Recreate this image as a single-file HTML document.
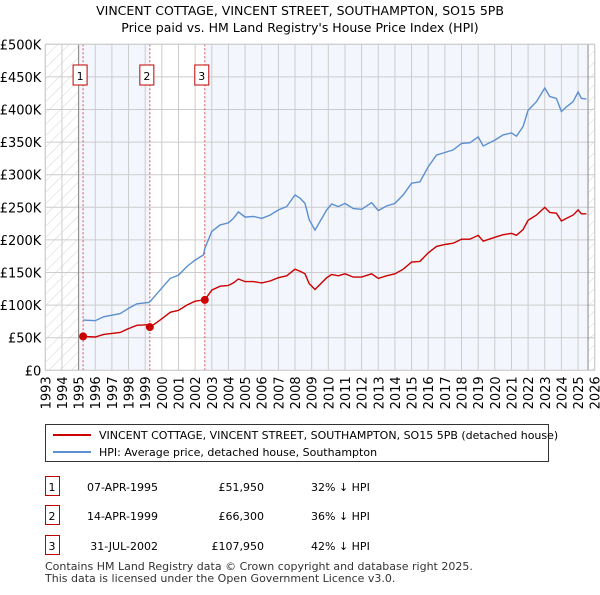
<!DOCTYPE html>
<html><head><meta charset="utf-8">
<style>
body{margin:0;background:#fff;font-family:"Liberation Sans","DejaVu Sans",sans-serif;}
svg text{font-family:"DejaVu Sans","Liberation Sans",sans-serif;}
</style></head>
<body>
<svg id="c" width="600" height="590" xmlns="http://www.w3.org/2000/svg">
<defs>
<pattern id="hatch" width="8" height="8" patternUnits="userSpaceOnUse" patternTransform="rotate(45)">
<line x1="0" y1="0" x2="0" y2="8" stroke="#d4d4d4" stroke-width="1"/>
</pattern>
</defs>
<text x="300" y="15" text-anchor="middle" font-size="12.5">VINCENT COTTAGE, VINCENT STREET, SOUTHAMPTON, SO15 5PB</text>
<text x="300" y="32" text-anchor="middle" font-size="12.5">Price paid vs. HM Land Registry's House Price Index (HPI)</text>
<g id="plot"></g>
<g id="legend">
<rect x="45.5" y="424.5" width="503" height="37" fill="#fff" stroke="#333"/>
<line x1="53" y1="435" x2="91" y2="435" stroke="#cc0000" stroke-width="2"/>
<text x="99" y="439" font-size="11">VINCENT COTTAGE, VINCENT STREET, SOUTHAMPTON, SO15 5PB (detached house)</text>
<line x1="53" y1="452" x2="91" y2="452" stroke="#5b8fd0" stroke-width="2"/>
<text x="99" y="456" font-size="11">HPI: Average price, detached house, Southampton</text>
</g>
<g id="table" font-size="11"></g>
<text x="45" y="570" font-size="11" fill="#333">Contains HM Land Registry data © Crown copyright and database right 2025.</text>
<text x="45" y="582" font-size="11" fill="#333">This data is licensed under the Open Government Licence v3.0.</text>
</svg>
<script>
const hpiYears=[1995.27,1996,1996.5,1997.5,1998,1998.5,1999.2,1999.28,2000,2000.5,2001,2001.5,2002,2002.5,2002.58,2003,2003.5,2004,2004.3,2004.6,2005,2005.5,2006,2006.5,2007,2007.5,2008,2008.3,2008.6,2008.85,2009.2,2009.9,2010.2,2010.6,2011,2011.5,2012,2012.6,2013,2013.5,2014,2014.5,2015,2015.5,2016,2016.5,2017,2017.5,2018,2018.5,2019,2019.3,2020,2020.5,2021,2021.3,2021.7,2022,2022.5,2023,2023.3,2023.7,2024,2024.3,2024.7,2025,2025.2,2025.5];
const hpiValues=[77,76,82,87,95,102,104,105,126,141,146,159,169,177,187,213,223,226,233,243,235,236,233,238,246,251,269,264,256,231,215,246,255,251,256,248,247,257,245,252,256,269,287,289,312,330,334,338,348,349,358,344,353,361,364,359,374,399,412,433,420,417,397,404,412,427,417,416];
const priceValues=[52,51,55,58,64,69,70,66,79,89,92,100,106,108,108,123,129,130,134,140,136,136,134,137,142,145,155,152,148,133,124,142,147,145,148,143,143,148,141,145,148,155,166,167,180,190,193,195,201,201,207,198,204,208,210,207,216,230,238,250,242,241,229,233,238,246,240,240];
const saleYears=[1995.27,1999.28,2002.58];
const salePrices=[51950,66300,107950];
const saleLabels=["1","2","3"];
const saleDates=["07-APR-1995","14-APR-1999","31-JUL-2002"];
const salePriceText=["£51,950","£66,300","£107,950"];
const saleHpiText=["32% ↓ HPI","36% ↓ HPI","42% ↓ HPI"];
const yTicks=[0,50,100,150,200,250,300,350,400,450,500];
const yTickLabels=["£0","£50K","£100K","£150K","£200K","£250K","£300K","£350K","£400K","£450K","£500K"];
const xTicks=[1993,1994,1995,1996,1997,1998,1999,2000,2001,2002,2003,2004,2005,2006,2007,2008,2009,2010,2011,2012,2013,2014,2015,2016,2017,2018,2019,2020,2021,2022,2023,2024,2025,2026];

const NS="http://www.w3.org/2000/svg";
const X0=45.3,X1=594.7,Y0=370.3,Y1=44.3;
const xs=y=>X0+(y-1993)/33*(X1-X0);
const ys=v=>Y0-v/500*(Y0-Y1);
const plot=document.getElementById('plot');
function mk(tag,attrs,parent){const e=document.createElementNS(NS,tag);for(const k in attrs)e.setAttribute(k,attrs[k]);(parent||plot).appendChild(e);return e;}
const dataEnd=2025.6;
let r=mk('rect',{x:X0,y:Y1,width:xs(1995)-X0,height:Y0-Y1,fill:'url(#hatch)'});


r=mk('rect',{x:xs(dataEnd),y:Y1,width:X1-xs(dataEnd),height:Y0-Y1,fill:'url(#hatch)'});


r=mk('rect',{x:xs(1995),y:Y1,width:xs(saleYears[1])-xs(1995),height:Y0-Y1,fill:'#f3f6fd'});


r=mk('rect',{x:xs(saleYears[2]),y:Y1,width:xs(dataEnd)-xs(saleYears[2]),height:Y0-Y1,fill:'#f3f6fd'});


yTicks.forEach((t,i)=>{
 const l=mk('line',{x1:X0,x2:X1,y1:ys(t),y2:ys(t),stroke:'#ccc','stroke-width':1});
 
 
 const tx=mk('text',{x:X0-4,y:ys(t)+5,'text-anchor':'end','font-size':13});
 tx.textContent=yTickLabels[i];
 
 
});
xTicks.forEach(t=>{
 const l=mk('line',{x1:xs(t),x2:xs(t),y1:Y1,y2:Y0,stroke:'#ccc','stroke-width':1});
 
 
 const tx=mk('text',{x:0,y:0,'text-anchor':'end','font-size':13,transform:`translate(${xs(t)+5},${Y0+6}) rotate(-90)`});
 tx.textContent=t;
 
 
});
let b=mk('line',{x1:xs(1995),x2:xs(1995),y1:Y1,y2:Y0,stroke:'#888'});


b=mk('line',{x1:xs(dataEnd),x2:xs(dataEnd),y1:Y1,y2:Y0,stroke:'#888'});


saleYears.forEach((s,i)=>{
 const l=mk('line',{x1:xs(s),x2:xs(s),y1:Y1,y2:Y0,stroke:'#e05050','stroke-dasharray':'2,2','stroke-width':1});
 
 
 const bx=mk('rect',{x:xs(s)-10,y:65,width:14,height:20,fill:'#fff',stroke:'#c00000'});
 
 
 const t=mk('text',{x:xs(s)-3,y:80,'text-anchor':'middle','font-size':11});
 t.textContent=saleLabels[i];
 
 
});
const path=(yrs,vals)=>yrs.map((y,i)=>(i?'L':'M')+xs(y).toFixed(1)+','+ys(vals[i]).toFixed(1)).join('');
let p=mk('path',{d:path(hpiYears,hpiValues),fill:'none',stroke:'#5b8fd0','stroke-width':1.4});


p=mk('path',{d:path(hpiYears,priceValues),fill:'none',stroke:'#cc0000','stroke-width':1.4});


saleYears.forEach((s,i)=>{
 const c=mk('circle',{cx:xs(s),cy:ys(salePrices[i]/1000),r:4,fill:'#cc0000'});
 
 
});
const fr=mk('rect',{x:X0,y:Y1,width:X1-X0,height:Y0-Y1,fill:'none',stroke:'#ccc'});


const tb=document.getElementById('table');
const rowY=[487,516,546];
saleLabels.forEach((lab,i)=>{
 const y=rowY[i];
 const bx=mk('rect',{x:45.5,y:y-10.5,width:14,height:19,fill:'#fff',stroke:'#c00000'},tb);
 
 
 const cells=[[lab,52,'middle','table-row-number'],[saleDates[i],158,'end','table-date'],[salePriceText[i],264,'end','table-price'],[saleHpiText[i],311,'start','table-hpi-diff']];
 cells.forEach(c=>{
  const t=mk('text',{x:c[1],y:y+4,'text-anchor':c[2],'font-size':11},tb);
  t.textContent=c[0];
  
  
 });
});
</script>
</body></html>
